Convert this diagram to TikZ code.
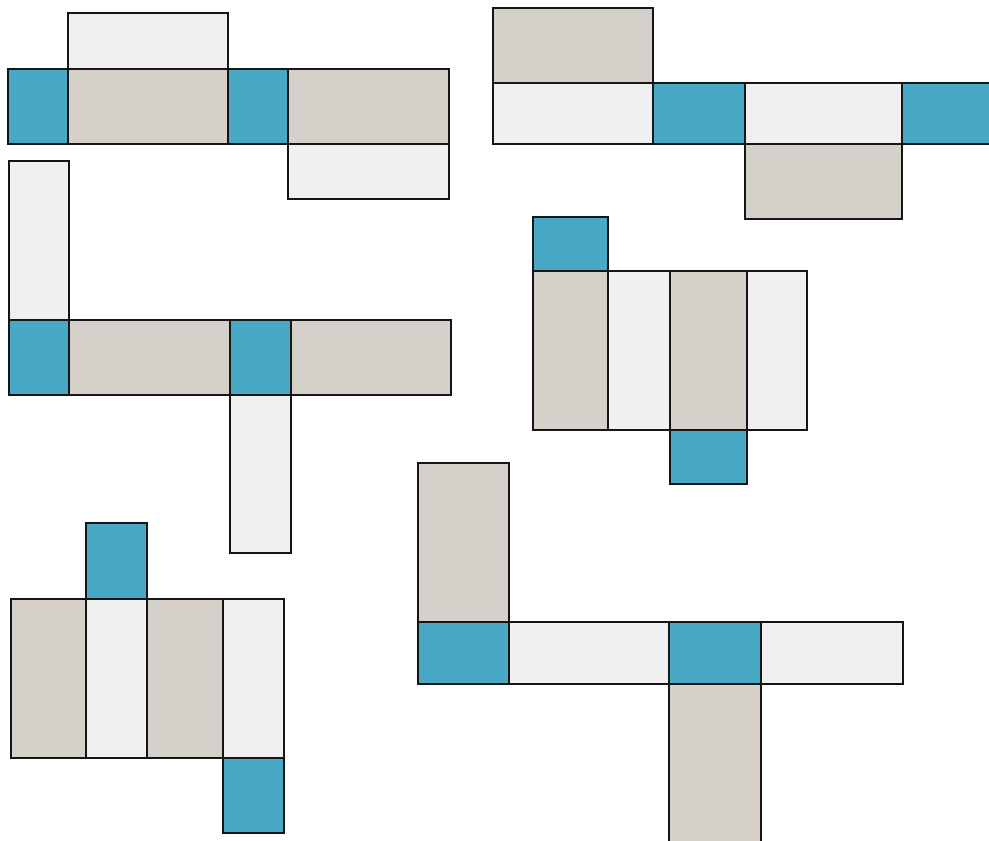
\documentclass[tikz,border=0pt]{standalone}
\usepackage{xcolor}
\definecolor{capblue}{HTML}{47A9C4}
\definecolor{sidetan}{HTML}{D5D0CA}
\definecolor{sidepale}{HTML}{F0F0F0}
\definecolor{edge}{HTML}{151515}
\tikzset{
  face/.style={draw=edge, line width=2.9pt, line join=miter},
}
% colour / left / top / right / bottom (pixels, y downwards)
\def\netfaces{%
  sidepale/68/13/228/69, capblue/8/69/68/144, sidetan/68/69/228/144,
  capblue/228/69/288/144, sidetan/288/69/449/144, sidepale/288/144/449/199,
  sidetan/493/8/653/83, sidepale/493/83/653/144, capblue/653/83/745/144,
  sidepale/745/83/902/144, capblue/902/83/998/144, sidetan/745/144/902/219,
  sidepale/9/161/69/320, capblue/9/320/69/395, sidetan/69/320/230/395,
  capblue/230/320/291/395, sidetan/291/320/451/395, sidepale/230/395/291/553,
  capblue/533/217/608/271, sidetan/533/271/608/430, sidepale/608/271/670/430,
  sidetan/670/271/747/430, sidepale/747/271/807/430, capblue/670/430/747/484,
  capblue/86/523/147/599, sidetan/11/599/86/758, sidepale/86/599/147/758,
  sidetan/147/599/223/758, sidepale/223/599/284/758, capblue/223/758/284/833,
  sidetan/418/463/509/622, capblue/418/622/509/684, sidepale/509/622/669/684,
  capblue/669/622/761/684, sidepale/761/622/903/684, sidetan/669/684/761/850%
}
\begin{document}
\begin{tikzpicture}[x=1pt,y=-1pt]
  \useasboundingbox[fill=white] (0,0) rectangle (989,841);

  % fills first
  \foreach \col/\xa/\ya/\xb/\yb in \netfaces {
    \fill[\col] (\xa,\ya) rectangle (\xb,\yb);
  }
  % then the fold lines and outlines
  \foreach \col/\xa/\ya/\xb/\yb in \netfaces {
    \draw[face] (\xa,\ya) rectangle (\xb,\yb);
  }
\end{tikzpicture}
\end{document}
